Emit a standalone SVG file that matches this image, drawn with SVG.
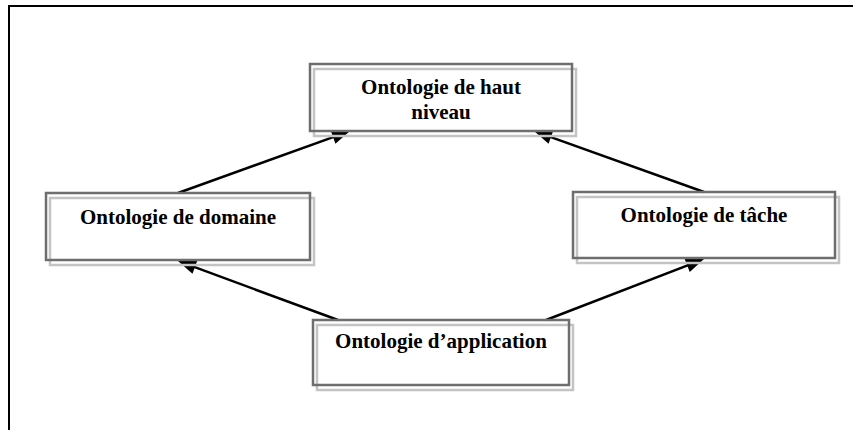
<svg xmlns="http://www.w3.org/2000/svg" width="853" height="430" viewBox="0 0 853 430">
  <style>
    .frame { fill: none; stroke: #000; stroke-width: 2; }
    .shadow { fill: none; stroke: #c4c4c4; stroke-width: 2.5; }
    .box { fill: none; stroke: #6e6e6e; stroke-width: 2.5; }
    .label { font-family: "Liberation Serif", "Times New Roman", serif; font-weight: bold; font-size: 21px; fill: #000; text-anchor: middle; }
    .edge { stroke: #000; stroke-width: 2.5; fill: none; }
    .head { fill: #000; stroke: none; }
  </style>

  <rect width="853" height="430" fill="#fff"/>
  <!-- outer frame (continues past the right and bottom edges) -->
  <rect class="frame" x="9" y="6" width="860" height="440"/>

  <g id="connectors">
    <line class="edge" x1="178" y1="193" x2="338.7" y2="135.1"/>
    <polygon class="head" points="350,131 335.43,143.69 330.69,130.51"/>
    <line class="edge" x1="704" y1="192" x2="545.3" y2="135.1"/>
    <polygon class="head" points="534,131 553.31,130.49 548.57,143.67"/>
    <line class="edge" x1="338" y1="320" x2="189.3" y2="265.2"/>
    <polygon class="head" points="178,261 197.30,260.67 192.46,273.79"/>
    <line class="edge" x1="546" y1="320" x2="692.8" y2="263.3"/>
    <polygon class="head" points="704,259 689.73,272.01 684.69,258.95"/>
  </g>

  <g id="haut-niveau">
    <rect class="shadow" x="314" y="69" width="262" height="67"/>
    <rect class="box" x="310" y="64" width="262" height="67"/>
    <text class="label" x="441" y="94">Ontologie de haut</text>
    <text class="label" x="441" y="119">niveau</text>
  </g>

  <g id="domaine">
    <rect class="shadow" x="50" y="198" width="264" height="67"/>
    <rect class="box" x="46" y="193" width="264" height="67"/>
    <text class="label" x="178" y="224">Ontologie de domaine</text>
  </g>

  <g id="tache">
    <rect class="shadow" x="577" y="197" width="262" height="66"/>
    <rect class="box" x="573" y="192" width="262" height="66"/>
    <text class="label" x="704" y="222">Ontologie de tâche</text>
  </g>

  <g id="application">
    <rect class="shadow" x="317" y="325" width="256" height="65"/>
    <rect class="box" x="313" y="320" width="256" height="65"/>
    <text class="label" x="441" y="348">Ontologie d’application</text>
  </g>
</svg>
